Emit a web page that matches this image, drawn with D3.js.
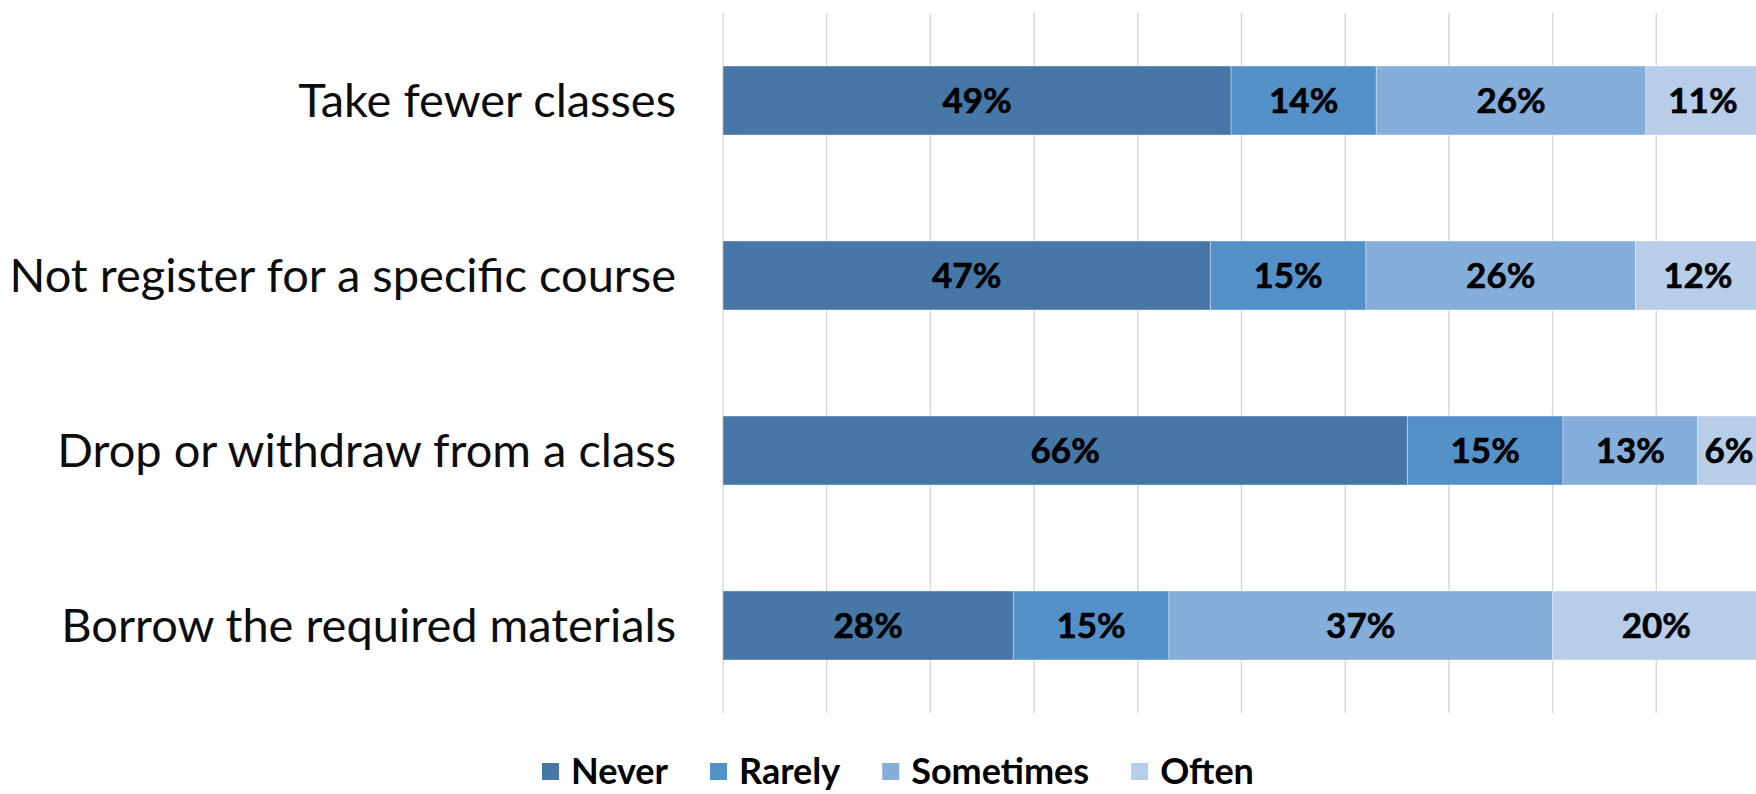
<!DOCTYPE html>
<html>
<head>
<meta charset="utf-8">
<script src="https://cdn.jsdelivr.net/npm/d3@7"></script>
<style>
  html, body { margin: 0; padding: 0; background: #fff; }
  svg { display: block; }
</style>
</head>
<body>
<svg id="chart" width="1756" height="794"></svg>
<script>
const categories = [
  "Take fewer classes",
  "Not register for a specific course",
  "Drop or withdraw from a class",
  "Borrow the required materials"
];
const seriesNames = ["Never", "Rarely", "Sometimes", "Often"];
const never     = [49, 47, 66, 28];
const rarely    = [14, 15, 15, 15];
const sometimes = [26, 26, 13, 37];
const often     = [11, 12, 6, 20];
const xTicks = [0, 10, 20, 30, 40, 50, 60, 70, 80, 90, 100];
const colors = ["#4677a7", "#5591c9", "#85aedb", "#b8cde8"];

const seriesValues = [never, rarely, sometimes, often];
const rows = categories.map((c, i) => {
  const r = { category: c };
  seriesNames.forEach((s, j) => r[s] = seriesValues[j][i]);
  return r;
});

const svg = d3.select("#chart");
const margin = { left: 723, right: -4, top: 13, bottom: 81 };
const W = 1756, H = 794;

const x = d3.scaleLinear().domain([0, 100]).range([margin.left, W - margin.right]);
const y = d3.scaleBand().domain(categories).range([margin.top, H - margin.bottom]).paddingInner(0.606).paddingOuter(0.303);

// gridlines
svg.append("g").selectAll("line").data(xTicks).join("line")
  .attr("x1", d => x(d)).attr("x2", d => x(d))
  .attr("y1", margin.top).attr("y2", H - margin.bottom)
  .attr("stroke", "#d9d9d9").attr("stroke-width", 1.5);

const stack = d3.stack().keys(seriesNames)(rows);

const layers = svg.append("g").selectAll("g").data(stack).join("g")
  .attr("fill", (d, i) => colors[i]);

layers.selectAll("rect").data(d => d).join("rect")
  .attr("x", d => x(d[0]))
  .attr("width", d => x(d[1]) - x(d[0]))
  .attr("y", d => y(d.data.category))
  .attr("height", y.bandwidth())
  .attr("stroke", "rgba(255,255,255,0.35)")
  .attr("stroke-width", 1);

// data labels
const labelG = svg.append("g")
  .attr("font-family", "Lato, 'Open Sans', sans-serif")
  .attr("font-weight", "bold")
  .attr("font-size", 35)
  .attr("fill", "#000");
stack.forEach((layer, i) => {
  labelG.append("g").selectAll("text").data(layer).join("text")
    .attr("x", d => (x(d[0]) + x(d[1])) / 2)
    .attr("y", d => y(d.data.category) + y.bandwidth() / 2)
    .attr("dy", "0.36em")
    .attr("text-anchor", "middle")
    .attr("stroke", "#000")
    .attr("stroke-width", 0.6)
    .text(d => (d[1] - d[0]) + "%");
});

// category axis
const yAxis = d3.axisLeft(y).tickSize(0).tickPadding(47);
const ay = svg.append("g").attr("transform", `translate(${margin.left},0)`).call(yAxis);
ay.select(".domain").remove();
ay.selectAll("text")
  .attr("font-family", "Lato, 'Open Sans', sans-serif")
  .attr("font-size", 47)
  .attr("fill", "#0d0d0d")
  .attr("dy", "0.36em");

// legend
const legend = svg.append("g")
  .attr("font-family", "Lato, 'Open Sans', sans-serif")
  .attr("font-weight", "bold")
  .attr("font-size", 36)
  .attr("fill", "#000");
let lx = 542;
const ly = 771;
seriesNames.forEach((s, i) => {
  legend.append("rect").attr("x", lx).attr("y", ly - 8).attr("width", 17).attr("height", 17).attr("fill", colors[i]);
  const t = legend.append("text").attr("x", lx + 29).attr("y", ly).attr("dy", "0.36em").text(s);
  lx += 29 + t.node().getComputedTextLength() + 42;
});
</script>
</body>
</html>
